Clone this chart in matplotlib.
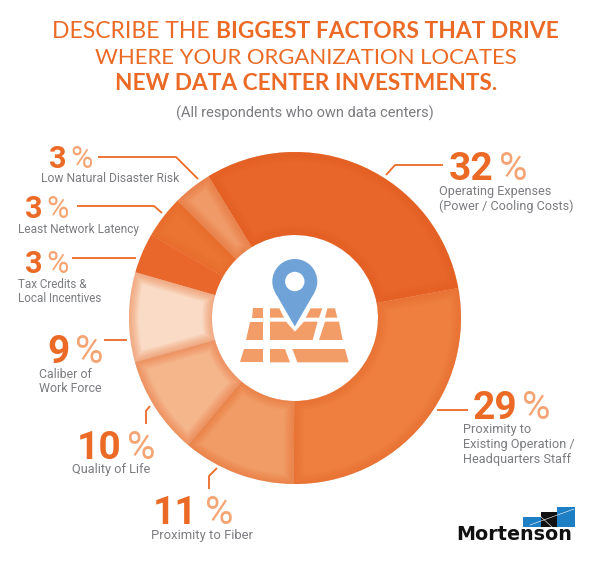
import matplotlib
matplotlib.use('Agg')
import matplotlib.pyplot as plt
from matplotlib.patches import Wedge, Polygon, Circle, Rectangle

plt.rcParams['font.family'] = ['Roboto', 'DejaVu Sans']

# values printed on the chart
factors = ['Operating Expenses\n(Power / Cooling Costs)', 'Low Natural Disaster Risk',
           'Least Network Latency', 'Tax Credits &\nLocal Incentives',
           'Caliber of\nWork Force', 'Quality of Life', 'Proximity to Fiber',
           'Proximity to\nExisting Operation /\nHeadquarters Staff']
percents = [32, 3, 3, 3, 9, 10, 11, 29]
# slice sizes as drawn, in degrees (the small slices are wider than their share)
drawn_angles = [111, 13.6, 15, 14, 31.5, 34.5, 39.5, 100.9]
slice_colors = ['#E8662A', '#F09A68', '#EC7433', '#E9672A', '#FADCC6', '#F5B68C', '#F19C66', '#EE7F3F']

ORANGE = '#EB6A26'
PCT_ORANGE = '#F5A574'
GREY = '#7B7C80'
TITLE_FONT = 'Lato'

fig = plt.figure(figsize=(6, 5.64), dpi=100)

# donut, centre (295, 318) radius 166 in picture pixels
ax_pie = fig.add_axes([(295 - 166) / 600, 1 - (318 + 166) / 564, 332 / 600, 332 / 564])
wedges, _ = ax_pie.pie(drawn_angles, colors=slice_colors, startangle=10.4, radius=1,
                       wedgeprops=dict(width=1 - 83 / 166))
ax_pie.set_xlim(-1, 1)
ax_pie.set_ylim(-1, 1)

# soft glow along the inside of each slice
for w, col in zip(wedges, slice_colors):
    glow = '#E9672A' if col != '#E8662A' else '#E4601F'
    for lw in [14, 12, 10, 8, 6, 4, 2]:
        g = Wedge(w.center, w.r, w.theta1, w.theta2, width=w.width, fill=False,
                  edgecolor=glow, lw=lw, alpha=0.07)
        ax_pie.add_patch(g)
        g.set_clip_path(w)

# everything else is laid out in picture pixels
ax = fig.add_axes([0, 0, 1, 1])
ax.set_xlim(0, 600)
ax.set_ylim(564, 0)
ax.axis('off')
ax.patch.set_alpha(0)

# title
ax.text(52, 32, 'DESCRIBE THE', color=ORANGE, fontsize=16.5, family=TITLE_FONT, ha='left', va='center')
ax.text(559, 32, 'BIGGEST FACTORS THAT DRIVE', color=ORANGE, fontsize=16.4, family=TITLE_FONT,
        fontweight='bold', ha='right', va='center')
ax.text(305.5, 58, 'WHERE YOUR ORGANIZATION LOCATES', color=ORANGE, fontsize=15.9, family=TITLE_FONT,
        ha='center', va='center')
ax.text(306, 84, 'NEW DATA CENTER INVESTMENTS.', color=ORANGE, fontsize=16.3, family=TITLE_FONT,
        fontweight='bold', ha='center', va='center')
ax.text(305, 113, '(All respondents who own data centers)', color=GREY, fontsize=10.5, ha='center', va='center')

# label layout: digits right edge, digits baseline, percent left edge, text left edge, text first line centre
num_right = [494, 66, 43, 43, 70, 122, 197, 517]
num_base = [180, 168, 218, 273, 363, 459, 524, 419]
pct_left = [499, 70, 46, 46, 75, 127, 205, 522]
num_size = [28, 22, 22, 22, 28, 28, 28, 28]
text_left = [439, 41, 18, 18, 39, 72, 151, 463]
text_top = [192, 178, 229, 284, 374, 470, 535, 430]
text_size = [9.1, 8.7, 8.6, 8.4, 8.9, 9.2, 9.4, 9.2]

for i, factor in enumerate(factors):
    ax.text(num_right[i], num_base[i], str(percents[i]), color=ORANGE, fontsize=num_size[i],
            fontweight='bold', ha='right', va='baseline')
    ax.text(pct_left[i], num_base[i], '%', color=PCT_ORANGE, fontsize=num_size[i],
            ha='left', va='baseline')
    for j, line in enumerate(factor.split('\n')):
        ax.text(text_left[i], text_top[i] + j * 14.7, line, color=GREY, fontsize=text_size[i], ha='left', va='center')

# leader lines
leaders = [
    ([386, 395, 443], [175, 165, 165]),
    ([98, 176, 198], [157, 157, 179]),
    ([77, 154, 162], [206, 206, 213]),
    ([72, 136], [258, 258]),
    ([104, 127], [340, 340]),
    ([150, 146, 146], [406, 411, 424]),
    ([217, 209, 209], [468, 476, 489]),
    ([437, 468], [410, 410]),
]
for xs, ys in leaders:
    ax.plot(xs, ys, color=ORANGE, lw=1.3, solid_capstyle='butt')

# map icon, coordinates taken from a 3x crop starting at (120, 120)
map_shapes = [
    [(400, 565), (430, 565), (430, 593), (395, 593)],
    [(450, 565), (478, 565), (492, 593), (450, 593)],
    [(572, 565), (607, 565), (597, 593), (557, 593)],
    [(622, 565), (645, 565), (652, 593), (615, 593)],
    [(390, 605), (430, 605), (430, 660), (378, 660)],
    [(450, 605), (498, 605), (525, 635), (552, 605), (593, 605), (578, 660), (450, 660)],
    [(615, 605), (657, 605), (668, 660), (597, 660)],
    [(372, 687), (430, 687), (430, 727), (360, 727)],
    [(450, 687), (495, 687), (510, 727), (450, 727)],
    [(517, 687), (675, 687), (686, 727), (532, 727)],
]
for shape in map_shapes:
    ax.add_patch(Polygon([(x / 3 + 120, y / 3 + 120) for x, y in shape], closed=True,
                         facecolor='#F29D67', edgecolor='none'))

# location pin
PIN = '#6FA3D8'
pin_x, pin_y, pin_r, tip_y = 294.8, 281.5, 22.5, 326.5
ax.add_patch(Circle((pin_x, pin_y), pin_r, facecolor=PIN, edgecolor='none'))
ax.add_patch(Polygon([(pin_x - 19.5, pin_y + 11.25), (pin_x + 19.5, pin_y + 11.25), (pin_x, tip_y)],
                     closed=True, facecolor=PIN, edgecolor='none'))
ax.add_patch(Circle((pin_x, pin_y), 9.7, facecolor='white', edgecolor='none'))

# Mortenson logo
ax.add_patch(Rectangle((523.3, 517.3), 17.4, 10, facecolor='#1F7FC4', edgecolor='none'))
ax.add_patch(Rectangle((540.7, 512), 16.6, 15.3, facecolor='#111111', edgecolor='none'))
ax.add_patch(Rectangle((557.3, 507.3), 17.4, 20, facecolor='#1F7FC4', edgecolor='none'))
ax.plot([530, 574], [525, 509], color='white', lw=0.4)
ax.plot([540, 552], [516, 527], color='white', lw=0.4)
ax.text(456, 540.5, 'Mortenson', color='#111111', fontsize=13.8, family='DejaVu Sans',
        fontweight='bold', ha='left', va='baseline')

fig.savefig('out.png', dpi=100)
